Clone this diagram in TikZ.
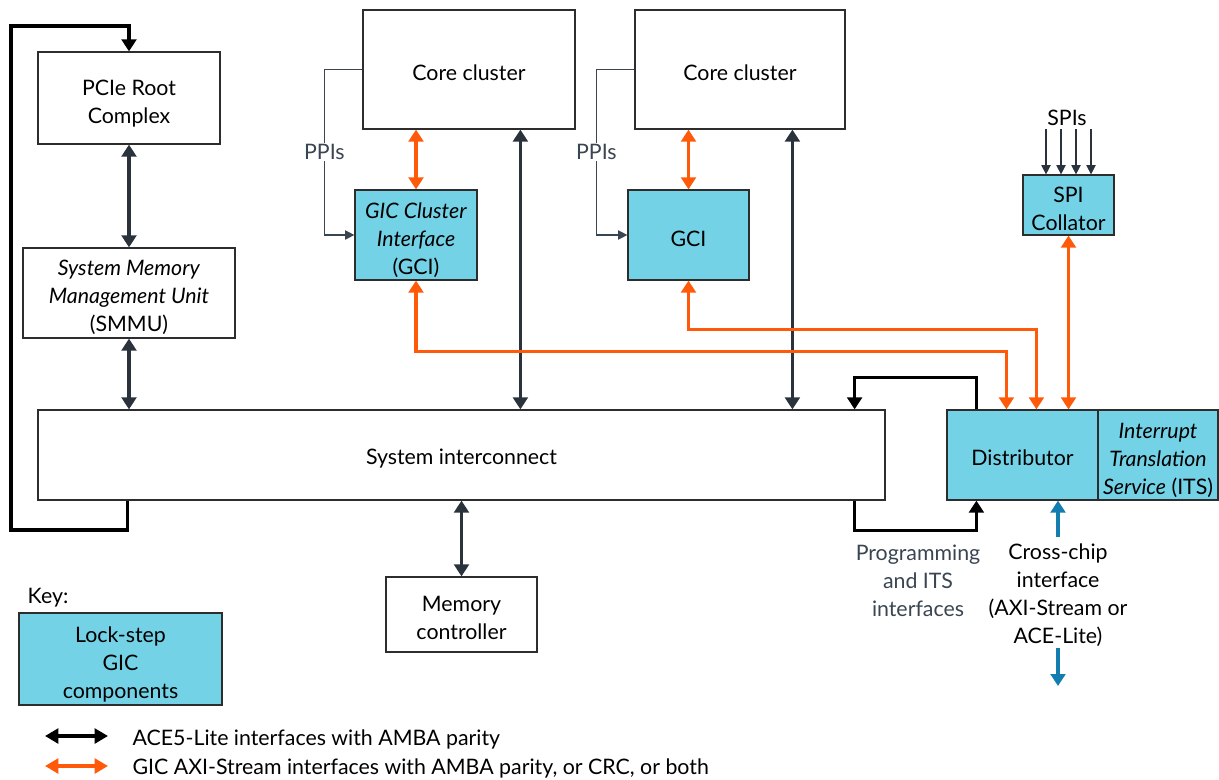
\documentclass[tikz,border=0pt]{standalone}
\usepackage{fontspec}
\setmainfont{Lato}
\usetikzlibrary{arrows.meta,calc}
\definecolor{gcicyan}{RGB}{115,210,230}
\definecolor{ifor}{RGB}{255,90,10}
\definecolor{idark}{RGB}{42,50,60}
\definecolor{iblue}{RGB}{20,125,175}
\definecolor{igrey}{RGB}{58,69,82}
\definecolor{iborder}{RGB}{45,45,45}
\tikzset{
  box/.style={draw=iborder, line width=0.9pt, fill=white, inner sep=0pt},
  gicbox/.style={box, fill=gcicyan},
  acearr/.style={line width=2.7pt, black, -{Triangle[width=11pt,length=9pt]}},
  darr/.style={line width=2.7pt, idark, {Triangle[width=11pt,length=9pt]}-{Triangle[width=11pt,length=9pt]}},
  oarr/.style={line width=2.5pt, ifor, {Triangle[width=11pt,length=9pt]}-{Triangle[width=11pt,length=9pt]}},
  barr/.style={line width=2.4pt, iblue, -{Triangle[width=11pt,length=9pt]}},
  ppi/.style={line width=0.9pt, igrey, -{Triangle[width=7pt,length=7pt]}},
  spiarr/.style={line width=0.9pt, idark, -{Triangle[width=7pt,length=7pt]}},
  lbl/.style={align=center, font=\fontsize{16pt}{21pt}\selectfont, inner sep=1pt},
}
\begin{document}
\begin{tikzpicture}[x=0.75pt,y=-0.75pt]
\useasboundingbox (0,0) rectangle (1219,780);

% boxes
\node[box, minimum width=136.5pt, minimum height=69pt] (pcie) at (129,98) {};
\node[box, minimum width=159pt, minimum height=67.5pt] (smmu) at (129,293) {};
\node[box, minimum width=635.25pt, minimum height=67.5pt] (sys) at (461.5,455) {};
\node[box, minimum width=113.25pt, minimum height=56.25pt] (mem) at (461.5,614.5) {};
\node[box, minimum width=159pt, minimum height=89.25pt] (core1) at (469,69.5) {};
\node[box, minimum width=157.5pt, minimum height=89.25pt] (core2) at (740,69.5) {};
\node[gicbox, minimum width=91.5pt, minimum height=67.5pt] (gci1) at (416,235) {};
\node[gicbox, minimum width=90.75pt, minimum height=67.5pt] (gci2) at (688.5,235) {};
\node[gicbox, minimum width=68.25pt, minimum height=45pt] (spi) at (1068.5,205) {};
\node[gicbox, minimum width=113.25pt, minimum height=67.5pt] (dist) at (1022.5,455) {};
\node[gicbox, minimum width=90pt, minimum height=67.5pt] (its) at (1158,455) {};
\node[gicbox, minimum width=152.25pt, minimum height=69pt] (key) at (120.5,659) {};

% box texts
\node[lbl] (pcie-t) at ($(pcie)+(0,6)$) {PCIe Root\\Complex};
\node[lbl] (smmu-t) at ($(smmu)+(0,4)$) {\textit{System Memory}\\\textit{Management Unit}\\(SMMU)};
\node[lbl] (sys-t) at ($(sys)+(0,4)$) {System interconnect};
\node[lbl] (mem-t) at ($(mem)+(0,3)$) {Memory\\controller};
\node[lbl] (core1-t) at ($(core1)+(0,3)$) {Core cluster};
\node[lbl] (core2-t) at ($(core2)+(0,3)$) {Core cluster};
\node[lbl] (gci1-t) at ($(gci1)+(0,5)$) {\textit{GIC Cluster}\\\textit{Interface}\\(GCI)};
\node[lbl] (gci2-t) at ($(gci2)+(0,3.5)$) {GCI};
\node[lbl] (spi-t) at ($(spi)+(0,4)$) {SPI\\Collator};
\node[lbl] (dist-t) at ($(dist)+(0,3)$) {Distributor};
\node[lbl] (its-t) at ($(its)+(0,5)$) {\textit{Interrupt}\\\textit{Translation}\\\textit{Service} (ITS)};
\node[lbl] (key-t) at ($(key)+(0,5)$) {Lock-step\\GIC\\components};

% labels
\node[lbl] (keylbl) at (48,598) {Key:};
\node[lbl] (spis) at (1067,118) {SPIs};
\node[lbl, text=igrey] (prog) at (918,581) {Programming\\and ITS\\interfaces};
\node[lbl] (cc) at (1058,595) {Cross-chip\\interface\\(AXI-Stream or\\ACE-Lite)};

% black ACE5-Lite connectors
\draw[acearr] ($(sys.south west)+(90,0)$) |- (11,530) -- (11,26) -| (pcie.north);
\draw[acearr] ($(dist.north west)+(30,0)$) |- ($(sys.north east)+(-31,-32)$) -- ($(sys.north east)+(-31,0)$);
\draw[acearr] ($(sys.south east)+(-31,0)$) |- ($(dist.south west)+(30,30)$) -- ($(dist.south west)+(30,0)$);

% dark double arrows
\draw[darr] (pcie.south) -- (smmu.north);
\draw[darr] (smmu.south) -- (smmu.south |- sys.north);
\draw[darr] ($(core1.south west)+(158,0)$) -- ($(sys.north west)+(483,0)$);
\draw[darr] ($(core2.south west)+(158,0)$) -- ($(sys.north west)+(755,0)$);
\draw[darr] (sys.south -| mem.north) -- (mem.north);

% orange
\draw[oarr] (gci1.north |- core1.south) -- (gci1.north);
\draw[oarr] (gci2.north |- core2.south) -- (gci2.north);
\draw[oarr] (gci1.south) |- ($(dist.north west)+(60,-58)$) -- ($(dist.north west)+(60,0)$);
\draw[oarr] (gci2.south) |- ($(dist.north west)+(90,-80)$) -- ($(dist.north west)+(90,0)$);
\draw[oarr] (spi.south) -- (spi.south |- dist.north);

% PPIs
\draw[ppi] (core1.west) -- ++(-38,0) |- node[pos=0.25, fill=white, text=igrey, font=\fontsize{16pt}{21pt}\selectfont, inner sep=1pt] (ppi1) {PPIs} (gci1.west);
\draw[ppi] (core2.west) -- ++(-38,0) |- node[pos=0.25, fill=white, text=igrey, font=\fontsize{16pt}{21pt}\selectfont, inner sep=1pt] (ppi2) {PPIs} (gci2.west);

% SPIs
\foreach \dx in {-22.5,-7.5,7.5,22.5}
  \draw[spiarr] ($(spi.north)+(\dx,-45)$) -- ($(spi.north)+(\dx,0)$);

% cross-chip
\draw[barr] ($(cc.north)+(0,-5)$) -- (cc.north |- dist.south);
\draw[barr] (cc.south) -- ++(0,38);

% legend
\coordinate (la1) at (45,736);
\coordinate (la2) at (108,736);
\coordinate (lb1) at (45,766);
\coordinate (lb2) at (108,766);
\draw[line width=2.7pt, black, {Triangle[width=11pt,length=10pt]}-{Triangle[width=11pt,length=10pt]}] (la1) -- (la2);
\draw[line width=2.7pt, ifor, {Triangle[width=11pt,length=10pt]}-{Triangle[width=11pt,length=10pt]}] (lb1) -- (lb2);
\node[lbl, anchor=west] (leg1) at (131,739) {ACE5-Lite interfaces with AMBA parity};
\node[lbl, anchor=west] (leg2) at (131,768) {GIC AXI-Stream interfaces with AMBA parity, or CRC, or both};
\end{tikzpicture}
\end{document}
